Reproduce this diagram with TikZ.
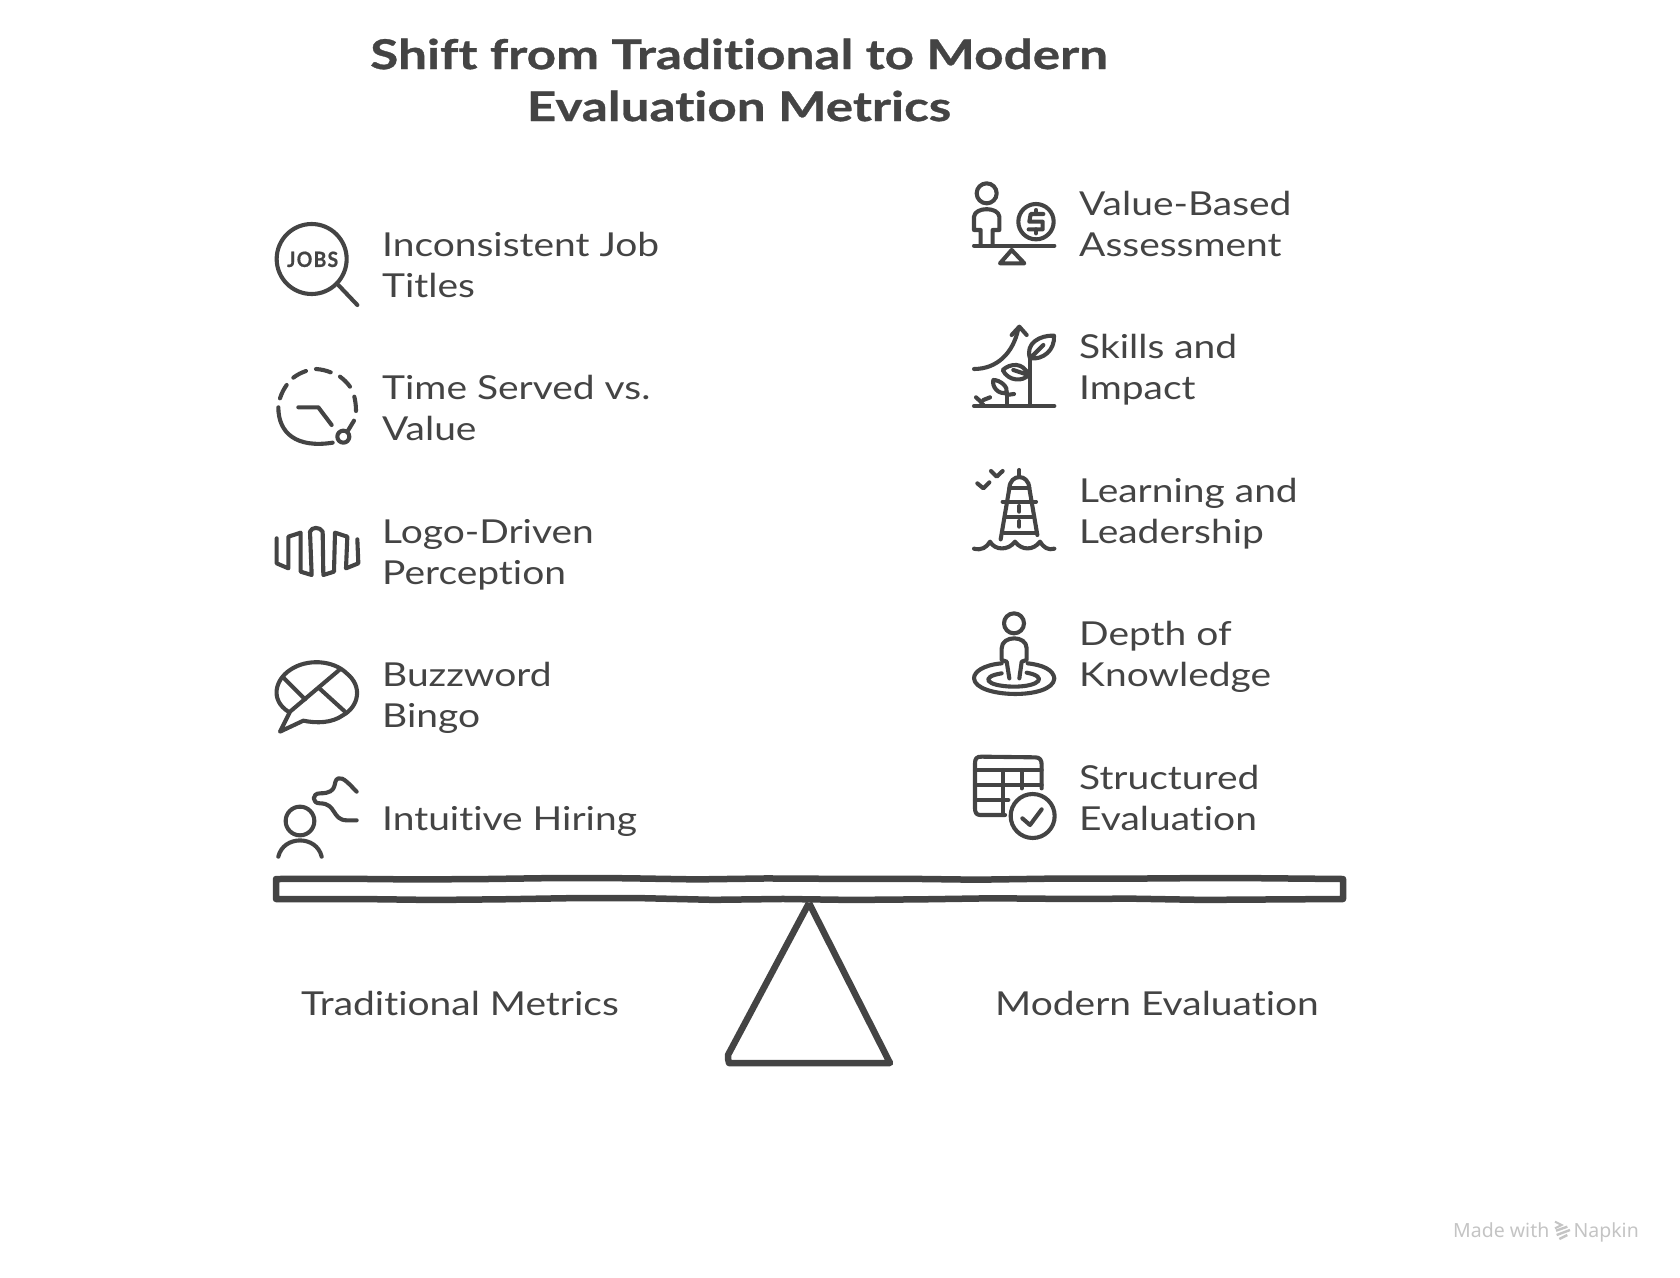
\documentclass[tikz,border=0pt]{standalone}
\usepackage{fontspec}
\usetikzlibrary{decorations.pathmorphing}
\setmainfont{Lato}[FakeStretch=1.18,Ligatures=NoCommon]
\newfontfamily\titlefont{Lato}[FakeStretch=1.25,FakeBold=0.8,Ligatures=NoCommon]
\newfontfamily\wordfont{Lato}[FakeStretch=0.92,FakeBold=0.8,LetterSpace=6]
\newfontfamily\notefont{Noto Sans}
\definecolor{inkgrey}{HTML}{444444}
\definecolor{markgrey}{HTML}{C4C4C4}
\tikzset{
  itemtext/.style={anchor=west,align=left,inner sep=0pt,text=inkgrey,font=\fontsize{33}{41}\selectfont},
  titletext/.style={align=center,inner sep=0pt,text=inkgrey,font=\titlefont\fontsize{41}{52}\selectfont\bfseries},
  iconline/.style={draw=inkgrey,line width=4.1pt,line cap=round,line join=round},
  seesawline/.style={draw=inkgrey,line width=6.5pt,line join=round,decorate,decoration={random steps,segment length=70pt,amplitude=1pt}},
  iconzoom/.style={shift={#1},scale=1/3}
}
\begin{document}
\begin{tikzpicture}[x=1pt,y=-1pt]
\useasboundingbox (0,0) rectangle (1680,1277);
\pgfmathsetseed{7}

% --- TITLE ---
\node[titletext] (title) at (739,80) {Shift from Traditional to Modern\\Evaluation Metrics};

% --- LEFT LABELS ---
\node[itemtext] (jobs) at (382,265) {Inconsistent Job\\Titles};
\node[itemtext] (served) at (382,408) {Time Served vs.\\Value};
\node[itemtext] (logo) at (382,555) {Logo-Driven\\Perception};
\node[itemtext] (buzz) at (382,698) {Buzzword\\Bingo};
\node[itemtext] (hiring) at (382,821) {Intuitive Hiring};

% --- RIGHT LABELS ---
\node[itemtext] (value) at (1079,224) {Value-Based\\Assessment};
\node[itemtext] (skills) at (1079,370) {Skills and\\Impact};
\node[itemtext] (learning) at (1079,514) {Learning and\\Leadership};
\node[itemtext] (depth) at (1079,657) {Depth of\\Knowledge};
\node[itemtext] (structured) at (1079,798) {Structured\\Evaluation};

% --- SEESAW ---
\draw[seesawline] (276,879) -- (1343,879) -- (1343,899) -- (276,899) -- cycle;
\draw[draw=inkgrey,line width=6.5pt,line join=round] (809,903) -- (728,1055) to[bend right=10] (729,1063) -- (890,1063) -- (809,903);

\node[itemtext,anchor=center] (oldside) at (460,1003) {Traditional Metrics};
\node[itemtext,anchor=center] (newside) at (1157,1003) {Modern Evaluation};

% --- LEFT ICONS ---
\begin{scope}[iconzoom={(260,210)}]
\draw[iconline] (155,147) circle (105);
\draw[iconline] (235,225) -- (292,285);
\node[inner sep=0pt,text=inkgrey,font=\wordfont\fontsize{21}{21}\selectfont\bfseries] (jobsword) at (158,148) {JOBS};
% clock
\draw[iconline] (60,565) to[bend left=8] (80,525);
\draw[iconline] (100,503) to[bend left=8] (138,483);
\draw[iconline] (168,477) to[bend left=8] (212,487);
\draw[iconline] (240,500) to[bend left=8] (270,530);
\draw[iconline] (283,560) to[bend left=6] (288,603);
\draw[iconline] (55,592) .. controls (55,670) and (110,715) .. (218,698);
\draw[iconline] (115,592) -- (175,592) -- (215,645);
\draw[iconline] (250,680) circle (18);
\draw[iconline] (262,665) -- (282,632);
\end{scope}

\begin{scope}[iconzoom={(260,510)}]
\draw[iconline] (50,85) -- (50,160) -- (85,175) -- (85,80) -- (122,68) -- (122,185) -- (155,195)
  -- (150,65) .. controls (155,50) and (180,50) .. (188,65) -- (190,195) -- (222,185) -- (225,68)
  -- (262,80) -- (258,175) -- (295,160) -- (292,88);
% speech bubble
\draw[iconline] (85,605) .. controls (30,570) and (45,510) .. (90,480)
  .. controls (140,445) and (220,450) .. (260,490)
  .. controls (310,530) and (295,590) .. (250,615)
  .. controls (215,640) and (170,640) .. (130,632) -- (60,665) -- (90,605) -- (240,478);
\draw[iconline] (72,505) -- (135,568);
\draw[iconline] (178,535) -- (255,605);
% person and squiggle
\draw[iconline] (120,933) circle (43);
\draw[iconline] (55,1040) .. controls (70,975) and (170,975) .. (185,1040);
\draw[iconline] (290,845) .. controls (270,825) and (250,800) .. (235,805)
  .. controls (215,812) and (240,850) .. (180,850)
  .. controls (155,850) and (155,880) .. (180,880)
  .. controls (230,880) and (215,930) .. (260,931) -- (290,931);
\end{scope}

% --- RIGHT ICONS ---
\begin{scope}[iconzoom={(960,170)}]
\draw[iconline] (80,70) circle (30);
\draw[iconline] (62,225) -- (62,180) -- (42,180) -- (42,140) .. controls (45,110) and (115,110) .. (118,140) -- (118,180) -- (98,180) -- (98,225);
\draw[iconline] (42,227) -- (283,227);
\draw[iconline] (155,240) -- (120,280) -- (193,280) -- (155,240);
\draw[iconline] (228,155) circle (53);
\draw[iconline] (250,132) -- (212,132) -- (208,155) -- (248,155) -- (248,178) -- (206,178);
\draw[iconline] (228,120) -- (228,132);
\draw[iconline] (228,178) -- (228,190);
% plant
\draw[iconline] (42,597) .. controls (110,597) and (160,550) .. (175,475);
\draw[iconline] (155,495) -- (178,470) -- (200,495);
\draw[iconline] (42,708) -- (283,708);
\draw[iconline] (210,708) -- (210,565);
\draw[iconline] (210,565) .. controls (195,520) and (240,495) .. (282,497) .. controls (285,540) and (250,570) .. (210,565) -- (250,525);
\draw[iconline] (205,615) .. controls (190,575) and (150,580) .. (128,600) .. controls (145,635) and (190,635) .. (205,615) -- (160,600);
\draw[iconline] (140,708) -- (140,668);
\draw[iconline] (140,668) .. controls (145,650) and (120,630) .. (100,630) .. controls (95,650) and (115,675) .. (140,668);
\draw[iconline] (140,675) -- (162,672);
\draw[iconline] (48,682) .. controls (55,690) and (65,695) .. (70,705);
\draw[iconline] (70,690) -- (90,682);
\end{scope}

\begin{scope}[iconzoom={(960,460)}]
% lighthouse
\draw[iconline] (42,266) .. controls (65,272) and (80,262) .. (90,245) .. controls (105,272) and (145,272) .. (165,245) .. controls (185,272) and (220,272) .. (240,245) .. controls (250,262) and (265,272) .. (283,266);
\draw[iconline] (122,238) -- (148,85) .. controls (150,40) and (206,40) .. (208,85) -- (232,225);
\draw[iconline] (178,30) -- (178,50);
\draw[iconline] (148,85) -- (208,85);
\draw[iconline] (128,125) -- (228,125);
\draw[iconline] (140,170) -- (218,170);
\draw[iconline] (132,218) -- (226,218);
\draw[iconline] (178,138) -- (178,155);
\draw[iconline] (178,183) -- (178,200);
\draw[iconline] (52,70) -- (70,85) -- (88,67);
\draw[iconline] (93,33) -- (110,50) -- (128,33);
% person in well
\draw[iconline] (162,490) circle (30);
\draw[iconline] (148,655) -- (140,605) -- (125,600) -- (125,565) .. controls (125,525) and (200,525) .. (200,565) -- (200,600) -- (185,605) -- (178,655);
\draw[iconline] (125,610) .. controls (70,615) and (42,635) .. (42,655) .. controls (45,715) and (280,720) .. (283,655) .. controls (280,630) and (250,615) .. (203,610);
\draw[iconline] (125,640) .. controls (60,650) and (75,678) .. (160,680) .. controls (240,680) and (265,650) .. (200,638);
% table and check
\draw[iconline] (135,1065) -- (60,1065) .. controls (48,1065) and (45,1055) .. (45,1045) -- (45,910) .. controls (45,895) and (50,890) .. (65,890) -- (225,892) .. controls (240,892) and (245,900) .. (245,915) -- (245,985);
\draw[iconline] (45,930) -- (245,930);
\draw[iconline] (45,975) -- (245,975);
\draw[iconline] (45,1020) -- (145,1020);
\draw[iconline] (130,930) -- (130,1065);
\draw[iconline] (185,930) -- (185,985);
\draw[iconline] (218,1068) circle (66);
\draw[iconline] (187,1075) -- (210,1095) -- (245,1048);
\end{scope}

% --- WATERMARK ---
\node[anchor=base east,inner sep=0pt,text=markgrey,font=\notefont\fontsize{19.5}{20}\selectfont] (brand) at (1639,1237) {Napkin};
\node[anchor=base west,inner sep=0pt,text=markgrey,font=\notefont\fontsize{19.5}{20}\selectfont] (made) at (1453,1237) {Made with};
\begin{scope}[iconzoom={(1430,1210)}]
\draw[draw=markgrey,line width=2pt] (375,35) -- (395,45) -- (375,55);
\draw[draw=markgrey,line width=2.4pt] (378,62) -- (412,50);
\draw[draw=markgrey,line width=2.4pt] (380,75) -- (420,60);
\draw[draw=markgrey,line width=2.4pt] (388,87) -- (412,75);
\end{scope}
\end{tikzpicture}
\end{document}
